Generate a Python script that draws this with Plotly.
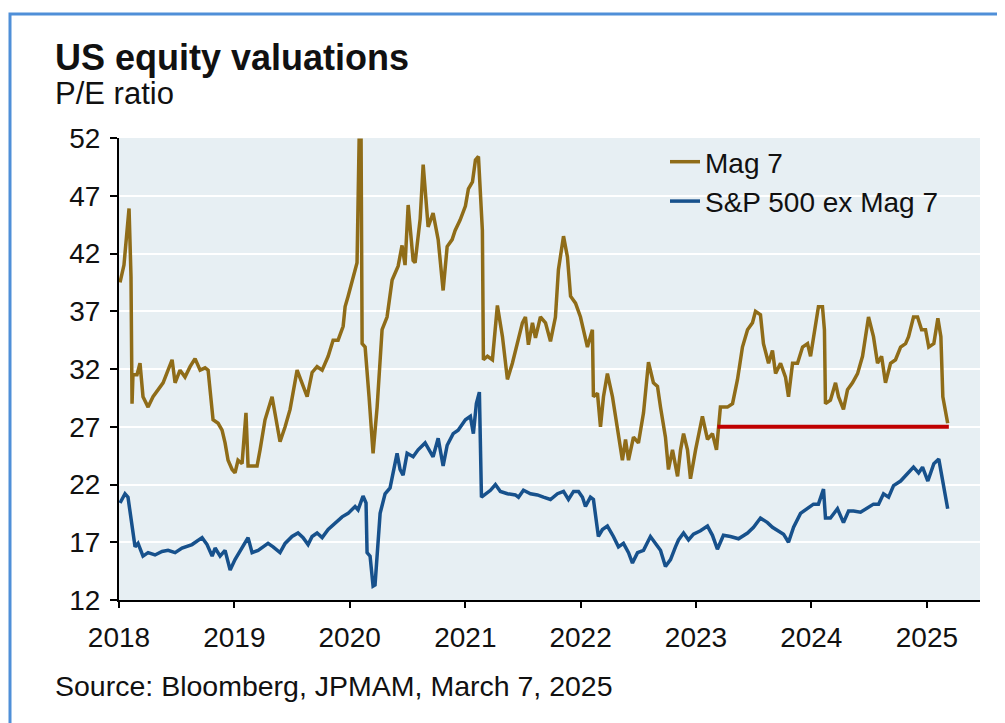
import plotly.graph_objects as go
import pandas as pd

# Decimal-year positions and P/E values
mag7_t = [2018.009, 2018.043, 2018.087, 2018.104, 2018.113, 2018.121, 2018.156, 2018.182, 2018.208, 2018.252,
          2018.295, 2018.338, 2018.382, 2018.425, 2018.460, 2018.486, 2018.529, 2018.572, 2018.616, 2018.659,
          2018.703, 2018.746, 2018.772, 2018.815, 2018.859, 2018.893, 2018.919, 2018.945, 2018.980, 2019.006,
          2019.032, 2019.067, 2019.101, 2019.119, 2019.154, 2019.197, 2019.223, 2019.266, 2019.327, 2019.396,
          2019.440, 2019.483, 2019.544, 2019.587, 2019.631, 2019.674, 2019.717, 2019.761, 2019.813, 2019.856,
          2019.899, 2019.943, 2019.960, 2019.986, 2020.029, 2020.064, 2020.082, 2020.099, 2020.108, 2020.134,
          2020.168, 2020.203, 2020.238, 2020.281, 2020.324, 2020.368, 2020.420, 2020.454, 2020.480, 2020.507,
          2020.550, 2020.567, 2020.611, 2020.637, 2020.680, 2020.723, 2020.767, 2020.810, 2020.845, 2020.888,
          2020.914, 2020.957, 2021.001, 2021.027, 2021.062, 2021.088, 2021.114, 2021.148, 2021.157, 2021.192,
          2021.235, 2021.278, 2021.322, 2021.365, 2021.408, 2021.452, 2021.495, 2021.521, 2021.547, 2021.582,
          2021.608, 2021.651, 2021.695, 2021.738, 2021.781, 2021.807, 2021.851, 2021.885, 2021.912, 2021.955,
          2021.998, 2022.024, 2022.059, 2022.102, 2022.111, 2022.146, 2022.172, 2022.198, 2022.232, 2022.276,
          2022.319, 2022.362, 2022.389, 2022.415, 2022.458, 2022.501, 2022.545, 2022.588, 2022.631, 2022.666,
          2022.692, 2022.735, 2022.761, 2022.796, 2022.840, 2022.866, 2022.892, 2022.926, 2022.952, 2022.996,
          2023.056, 2023.100, 2023.143, 2023.178, 2023.212, 2023.273, 2023.317, 2023.360, 2023.403, 2023.447,
          2023.490, 2023.516, 2023.559, 2023.585, 2023.629, 2023.663, 2023.690, 2023.733, 2023.776, 2023.802,
          2023.837, 2023.880, 2023.924, 2023.967, 2023.993, 2024.028, 2024.062, 2024.097, 2024.114, 2024.123,
          2024.166, 2024.210, 2024.236, 2024.279, 2024.314, 2024.357, 2024.401, 2024.444, 2024.470, 2024.496,
          2024.539, 2024.574, 2024.609, 2024.643, 2024.687, 2024.730, 2024.774, 2024.817, 2024.843, 2024.886,
          2024.921, 2024.956, 2024.990, 2025.016, 2025.060, 2025.095, 2025.121, 2025.138, 2025.180]
mag7_v = [39.5, 41.0, 45.9, 40.0, 29.0, 31.5, 31.5, 32.5, 29.6, 28.7,
          29.6, 30.2, 30.8, 31.9, 32.8, 30.8, 31.9, 31.3, 32.2, 32.9,
          31.9, 32.1, 31.9, 27.6, 27.3, 26.7, 25.6, 24.1, 23.3, 23.0,
          24.1, 23.8, 28.2, 23.6, 23.6, 23.6, 25.0, 27.6, 29.6, 25.7,
          27.0, 28.5, 31.9, 30.8, 29.6, 31.7, 32.2, 31.9, 33.1, 34.5,
          34.5, 35.7, 37.4, 38.3, 40.0, 41.2, 51.8, 51.8, 34.2, 33.9,
          29.6, 24.7, 28.7, 35.4, 36.5, 39.7, 40.9, 42.7, 41.0, 46.2,
          41.4, 41.2, 45.0, 49.7, 44.3, 45.5, 43.2, 38.8, 42.6, 43.2,
          44.0, 44.9, 46.1, 47.6, 48.2, 50.1, 50.4, 44.0, 32.8, 33.1,
          32.8, 37.5, 34.8, 31.1, 32.5, 34.2, 36.0, 36.5, 34.1, 36.0,
          34.7, 36.5, 36.0, 34.4, 36.5, 40.6, 43.5, 41.7, 38.3, 37.7,
          36.5, 35.4, 33.9, 35.4, 29.6, 29.9, 27.0, 29.6, 31.6, 29.6,
          27.0, 24.1, 25.9, 24.1, 26.1, 25.6, 28.2, 32.6, 30.8, 30.5,
          28.7, 26.1, 23.3, 25.0, 22.7, 25.0, 26.4, 25.0, 22.5, 25.0,
          27.9, 25.9, 26.4, 25.0, 28.7, 28.7, 29.0, 31.1, 33.9, 35.4,
          36.0, 37.0, 36.7, 34.2, 32.5, 33.6, 31.6, 32.5, 31.3, 29.6,
          32.5, 32.5, 33.9, 34.2, 33.1, 35.4, 37.4, 37.4, 35.4, 29.0,
          29.3, 30.8, 29.6, 28.5, 30.2, 30.8, 31.6, 33.1, 34.8, 36.5,
          34.8, 32.5, 33.1, 30.8, 32.5, 32.8, 33.9, 34.2, 34.8, 36.5,
          36.5, 35.4, 35.4, 33.9, 34.2, 36.4, 34.8, 29.6, 27.3]

ex_t = [2018.009, 2018.052, 2018.078, 2018.113, 2018.139, 2018.165, 2018.208, 2018.252, 2018.312, 2018.373,
        2018.425, 2018.486, 2018.546, 2018.633, 2018.720, 2018.763, 2018.807, 2018.833, 2018.876, 2018.919,
        2018.963, 2019.006, 2019.049, 2019.093, 2019.119, 2019.154, 2019.206, 2019.249, 2019.292, 2019.336,
        2019.396, 2019.440, 2019.500, 2019.552, 2019.596, 2019.639, 2019.674, 2019.717, 2019.761, 2019.813,
        2019.873, 2019.934, 2019.986, 2020.047, 2020.073, 2020.116, 2020.142, 2020.151, 2020.177, 2020.203,
        2020.220, 2020.238, 2020.264, 2020.307, 2020.350, 2020.411, 2020.437, 2020.463, 2020.498, 2020.550,
        2020.593, 2020.654, 2020.697, 2020.723, 2020.767, 2020.810, 2020.845, 2020.897, 2020.940, 2021.001,
        2021.044, 2021.070, 2021.096, 2021.122, 2021.140, 2021.174, 2021.218, 2021.261, 2021.304, 2021.365,
        2021.434, 2021.461, 2021.504, 2021.565, 2021.625, 2021.677, 2021.738, 2021.799, 2021.851, 2021.894,
        2021.938, 2021.981, 2022.016, 2022.042, 2022.085, 2022.111, 2022.154, 2022.189, 2022.232, 2022.284,
        2022.328, 2022.371, 2022.415, 2022.449, 2022.493, 2022.545, 2022.605, 2022.649, 2022.692, 2022.735,
        2022.779, 2022.822, 2022.848, 2022.892, 2022.935, 2022.978, 2023.039, 2023.100, 2023.143, 2023.186,
        2023.238, 2023.299, 2023.369, 2023.447, 2023.499, 2023.559, 2023.620, 2023.663, 2023.716, 2023.759,
        2023.802, 2023.846, 2023.906, 2023.967, 2024.019, 2024.062, 2024.106, 2024.123, 2024.166, 2024.227,
        2024.279, 2024.323, 2024.366, 2024.427, 2024.487, 2024.539, 2024.583, 2024.626, 2024.670, 2024.713,
        2024.774, 2024.834, 2024.886, 2024.930, 2024.964, 2025.008, 2025.060, 2025.103, 2025.138, 2025.180]
ex_v = [20.4, 21.2, 20.9, 18.1, 16.6, 16.9, 15.8, 16.1, 15.9, 16.2,
        16.3, 16.1, 16.5, 16.8, 17.4, 16.8, 15.8, 16.5, 15.8, 16.3,
        14.6, 15.5, 16.2, 16.9, 17.4, 16.1, 16.3, 16.6, 16.9, 16.6,
        16.1, 16.9, 17.5, 17.8, 17.4, 16.8, 17.5, 17.8, 17.4, 18.1,
        18.6, 19.2, 19.5, 20.1, 19.8, 21.0, 20.4, 16.1, 15.8, 13.2,
        13.3, 15.5, 19.5, 21.2, 21.7, 24.7, 23.3, 22.8, 24.7, 24.4,
        25.0, 25.6, 24.8, 24.4, 26.0, 23.6, 25.4, 26.4, 26.7, 27.6,
        27.9, 26.4, 29.0, 30.0, 20.9, 21.2, 21.5, 22.0, 21.4, 21.2,
        21.1, 20.9, 21.5, 21.2, 21.1, 20.9, 20.7, 21.2, 21.4, 20.7,
        21.4, 21.4, 20.9, 20.1, 20.9, 20.7, 17.5, 18.1, 18.4, 17.5,
        16.6, 16.9, 16.1, 15.2, 16.1, 16.3, 17.5, 16.9, 16.3, 14.9,
        15.5, 16.6, 17.2, 17.8, 17.2, 17.7, 18.0, 18.4, 17.6, 16.4,
        17.6, 17.5, 17.3, 17.8, 18.3, 19.1, 18.7, 18.3, 18.0, 17.7,
        17.0, 18.3, 19.5, 19.9, 20.3, 20.3, 21.6, 19.1, 19.1, 19.9,
        18.7, 19.7, 19.7, 19.6, 20.0, 20.3, 20.3, 21.2, 20.9, 21.9,
        22.3, 22.9, 23.5, 23.0, 23.5, 22.3, 23.8, 24.2, 22.3, 19.9]

ref_t = [2023.186, 2025.190]
ref_v = [27.0, 27.0]

y_ticks = [12, 17, 22, 27, 32, 37, 42, 47, 52]
x_tick_years = [2018, 2019, 2020, 2021, 2022, 2023, 2024, 2025]


def to_dates(ts):
    out = []
    for t in ts:
        y = int(t)
        start = pd.Timestamp(year=y, month=1, day=1)
        out.append(start + pd.Timedelta(days=(t - y) * 365.25))
    return out


FONT = "Liberation Sans, Arial, sans-serif"
GOLD = "#8f6c18"
BLUE = "#17518c"
OFF = 8  # page body offset

# plot area in page pixels: left 119, right 980, top 138, bottom 600
PL, PR, PT, PB = 119, 980, 138, 600
PW, PH = PR - PL, PB - PT

def px(x):
    return (x - PL) / PW

def py(y):
    return (PB - y) / PH

fig = go.Figure()
fig.add_trace(go.Scatter(x=to_dates(mag7_t), y=mag7_v, mode="lines", name="Mag 7",
                         line=dict(color=GOLD, width=3.5)))
fig.add_trace(go.Scatter(x=to_dates(ex_t), y=ex_v, mode="lines", name="S&P 500 ex Mag 7",
                         line=dict(color=BLUE, width=3.5)))
fig.add_trace(go.Scatter(x=to_dates(ref_t), y=ref_v, mode="lines", showlegend=False,
                         line=dict(color="#c00000", width=4)))

fig.update_layout(
    width=1005, height=723,
    margin=dict(l=PL - OFF, r=1005 - (PR - OFF), t=PT - OFF, b=723 - (PB - OFF)),
    paper_bgcolor="white",
    plot_bgcolor="#e7eff3",
    font=dict(family=FONT, size=28, color="#111111"),
    title=dict(text="<b>US equity valuations</b>", x=(55 - OFF) / 1005, xref="container", xanchor="left",
               y=1 - (57 - OFF) / 723, yref="container", yanchor="middle",
               font=dict(family=FONT, size=36, color="#111111")),
    showlegend=True,
    legend=dict(x=px(665), xanchor="left", y=py(137), yanchor="top", bgcolor="rgba(0,0,0,0)",
                font=dict(family=FONT, size=28, color="#111111"), tracegroupgap=0),
    xaxis=dict(type="date", range=[pd.Timestamp("2018-01-01"), pd.Timestamp("2025-06-18")],
               tickvals=[pd.Timestamp(year=y, month=1, day=1) for y in x_tick_years],
               ticktext=[str(y) for y in x_tick_years],
               showgrid=False, showline=True, linecolor="black", linewidth=2,
               ticks="outside", ticklen=6, tickwidth=2, tickcolor="black",
               ticklabelstandoff=5, tickfont=dict(size=28), zeroline=False),
    yaxis=dict(range=[12, 52], tickvals=y_ticks, showgrid=True, gridcolor="white", gridwidth=2,
               showline=True, linecolor="black", linewidth=2,
               ticks="outside", ticklen=7, tickwidth=2, tickcolor="black",
               ticklabelstandoff=4, tickfont=dict(size=28), zeroline=False),
    annotations=[
        dict(text="P/E ratio", xref="paper", yref="paper", x=px(53), y=py(94),
             xanchor="left", yanchor="middle", showarrow=False, font=dict(family=FONT, size=31, color="#111111")),
        dict(text="Source: Bloomberg, JPMAM, March 7, 2025", xref="paper", yref="paper",
             x=px(53), y=py(686), xanchor="left", yanchor="middle", showarrow=False,
             font=dict(family=FONT, size=28.5, color="#111111")),
    ],
    shapes=[dict(type="rect", xref="paper", yref="paper", x0=px(10), x1=px(1001),
                 y0=py(740), y1=py(14), line=dict(color="#4f8fd8", width=3),
                 fillcolor="rgba(0,0,0,0)", layer="below")],
)

fig.write_html("out.html")
